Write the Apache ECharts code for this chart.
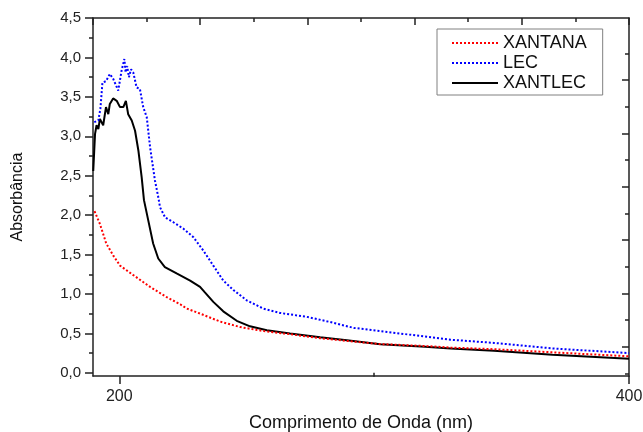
<!DOCTYPE html>
<html>
<head>
<meta charset="utf-8">
<script src="https://cdn.jsdelivr.net/npm/echarts@6/dist/echarts.min.js"></script>
<style>html,body{margin:0;padding:0;background:#fff}#c{width:643px;height:432px}</style>
</head>
<body>
<div id="c"></div>
<script>
// ---- data ----
const seriesNames = ['XANTANA', 'LEC', 'XANTLEC'];

const xantanaNm  = [190.3, 192.4, 194.9, 197.6, 200.3, 205.5, 212.1, 218.6, 223.9, 226.5, 231.8, 239.6, 247.5, 256.7, 267, 278.8, 289.3, 302.4, 320, 330, 347, 370, 400];
const xantanaAbs = [2.05, 1.89, 1.64, 1.49, 1.36, 1.24, 1.09, 0.96, 0.87, 0.815, 0.75, 0.65, 0.58, 0.53, 0.49, 0.44, 0.405, 0.365, 0.34, 0.32, 0.30, 0.26, 0.21];

const lecNm  = [190.2, 191.8, 192.6, 193.4, 194.8, 196.3, 197.6, 199.6, 200.9, 202.0, 202.5, 203.1, 203.8, 204.6, 205.5, 206.2, 206.8, 208.1, 209.4, 210.8, 212.1, 214.0, 215.3, 216.0, 218.0, 221.2, 225.1, 229.1, 233.0, 236.9, 240.8, 244.8, 250.0, 256.5, 263.1, 273.6, 282.7, 292.0, 302.4, 320, 330, 347, 370, 400];
const lecAbs = [3.18, 3.20, 3.35, 3.68, 3.70, 3.79, 3.73, 3.58, 3.83, 3.98, 3.81, 3.89, 3.75, 3.85, 3.81, 3.83, 3.62, 3.60, 3.37, 3.24, 2.86, 2.44, 2.23, 2.10, 1.97, 1.91, 1.83, 1.72, 1.55, 1.36, 1.17, 1.05, 0.92, 0.815, 0.76, 0.71, 0.645, 0.57, 0.53, 0.46, 0.42, 0.38, 0.31, 0.25];

const xantlecNm  = [189.8, 190.5, 191.1, 191.8, 192.4, 193.7, 194.8, 195.7, 196.3, 197.6, 199.0, 200.3, 201.6, 202.6, 203.5, 204.9, 206.2, 207.5, 208.8, 209.7, 211.4, 213.3, 215.3, 217.9, 222.5, 227.8, 231.7, 233.6, 236.9, 240.8, 246.1, 251.3, 257.9, 267, 278.8, 289.3, 302.4, 320, 330, 347, 370, 400];
const xantlecAbs = [2.56, 3.03, 3.14, 3.09, 3.22, 3.14, 3.37, 3.28, 3.41, 3.48, 3.45, 3.37, 3.37, 3.45, 3.28, 3.20, 3.07, 2.82, 2.48, 2.19, 1.93, 1.64, 1.45, 1.34, 1.26, 1.17, 1.09, 1.02, 0.90, 0.78, 0.66, 0.59, 0.54, 0.50, 0.45, 0.414, 0.363, 0.33, 0.31, 0.28, 0.23, 0.18];

const xMin = 189.7, xMax = 400;
const xMajorTicks = [200, 400];
const xMinorTicks = [300];
const yMin = -0.04, yMax = 4.5;
const yMajorTicks = [0, 0.5, 1, 1.5, 2, 2.5, 3, 3.5, 4, 4.5];
const yMinorTicks = [0.25, 0.75, 1.25, 1.75, 2.25, 2.75, 3.25, 3.75, 4.25];
const rightMajorTicks = [2.33, 4.33, 6.33, 8.33, 10.33, 12.33];
const rightMinorTicks = [1.33, 3.33, 5.33, 7.33, 9.33, 11.33, 13.33];

const xTitle = 'Comprimento de Onda (nm)';
const yTitle = 'Absorbância';

// ---- chart ----
const FONT = '"Liberation Sans", Arial, sans-serif';
const AX = '#222';
const zip = (a, b) => a.map((v, i) => [v, b[i]]);

const chart = echarts.init(document.getElementById('c'), null, {renderer: 'canvas'});
const hidden = {show: false};
chart.setOption({
  animation: false,
  backgroundColor: '#fff',
  grid: {left: 93, right: 14, top: 18, bottom: 56, containLabel: false, outerBoundsMode: 'none'},
  legend: {
    orient: 'vertical', left: 437, top: 29,
    itemWidth: 46, itemHeight: 14, itemGap: 2,
    padding: [5, 16, 3, 14],
    borderColor: '#808080', borderWidth: 1, backgroundColor: '#fff',
    itemStyle: {opacity: 0},
    textStyle: {fontFamily: FONT, fontSize: 18, lineHeight: 18, color: '#111'},
    data: seriesNames
  },
  xAxis: [
    {type: 'value', position: 'bottom', min: xMin, max: xMax,
     axisLine: {show: true, onZero: false, lineStyle: {color: AX, width: 1.5}},
     axisTick: {show: true, customValues: xMajorTicks, length: 8, inside: false, lineStyle: {color: AX, width: 1.5}},
     axisLabel: {show: true, customValues: xMajorTicks, margin: 13, fontFamily: FONT, fontSize: 16, color: AX},
     splitLine: hidden,
     name: xTitle, nameLocation: 'middle', nameGap: 38,
     nameTextStyle: {fontFamily: FONT, fontSize: 18, color: '#111'}},
    {type: 'value', position: 'bottom', min: xMin, max: xMax,
     axisLine: hidden,
     axisTick: {show: true, customValues: xMinorTicks, length: 4, inside: false, lineStyle: {color: AX, width: 1.5}},
     axisLabel: hidden, splitLine: hidden},
    {type: 'value', position: 'top', min: 0, max: 5, interval: 1,
     axisLine: {show: true, onZero: false, lineStyle: {color: AX, width: 1.5}},
     axisTick: {show: true, inside: true, length: 7, lineStyle: {color: AX, width: 1.5}},
     minorTick: {show: true, splitNumber: 2, length: 4, lineStyle: {color: AX, width: 1.5}},
     axisLabel: hidden, splitLine: hidden, minorSplitLine: hidden}
  ],
  yAxis: [
    {type: 'value', position: 'left', min: yMin, max: yMax,
     axisLine: {show: true, onZero: false, lineStyle: {color: AX, width: 1.5}},
     axisTick: {show: true, customValues: yMajorTicks, length: 8, inside: false, lineStyle: {color: AX, width: 1.5}},
     axisLabel: {show: true, customValues: yMajorTicks, margin: 12, fontFamily: FONT, fontSize: 15, color: AX,
                 formatter: v => Number(v).toFixed(1).replace('.', ',')},
     splitLine: hidden,
     name: yTitle, nameLocation: 'middle', nameRotate: 90, nameGap: 67,
     nameTextStyle: {fontFamily: FONT, fontSize: 16, color: '#111'}},
    {type: 'value', position: 'left', min: yMin, max: yMax,
     axisLine: hidden,
     axisTick: {show: true, customValues: yMinorTicks, length: 4, inside: false, lineStyle: {color: AX, width: 1.5}},
     axisLabel: hidden, splitLine: hidden},
    {type: 'value', position: 'right', inverse: true, min: 0, max: 13.425,
     axisLine: {show: true, onZero: false, lineStyle: {color: AX, width: 1.5}},
     axisTick: {show: true, customValues: rightMajorTicks, length: 7, inside: true, lineStyle: {color: AX, width: 1.5}},
     axisLabel: hidden, splitLine: hidden},
    {type: 'value', position: 'right', inverse: true, min: 0, max: 13.425,
     axisLine: hidden,
     axisTick: {show: true, customValues: rightMinorTicks, length: 4, inside: true, lineStyle: {color: AX, width: 1.5}},
     axisLabel: hidden, splitLine: hidden}
  ],
  series: [
    {name: seriesNames[0], type: 'line', xAxisIndex: 0, yAxisIndex: 0, symbol: 'none', showSymbol: false,
     data: zip(xantanaNm, xantanaAbs), z: 3,
     lineStyle: {color: '#ff0000', width: 2, type: 'dotted'}, itemStyle: {color: '#ff0000'}},
    {name: seriesNames[1], type: 'line', xAxisIndex: 0, yAxisIndex: 0, symbol: 'none', showSymbol: false,
     data: zip(lecNm, lecAbs), z: 3,
     lineStyle: {color: '#0000ff', width: 2, type: 'dotted'}, itemStyle: {color: '#0000ff'}},
    {name: seriesNames[2], type: 'line', xAxisIndex: 0, yAxisIndex: 0, symbol: 'none', showSymbol: false,
     data: zip(xantlecNm, xantlecAbs), z: 2,
     lineStyle: {color: '#000000', width: 2, type: 'solid'}, itemStyle: {color: '#000000'}}
  ]
});
</script>
</body>
</html>
